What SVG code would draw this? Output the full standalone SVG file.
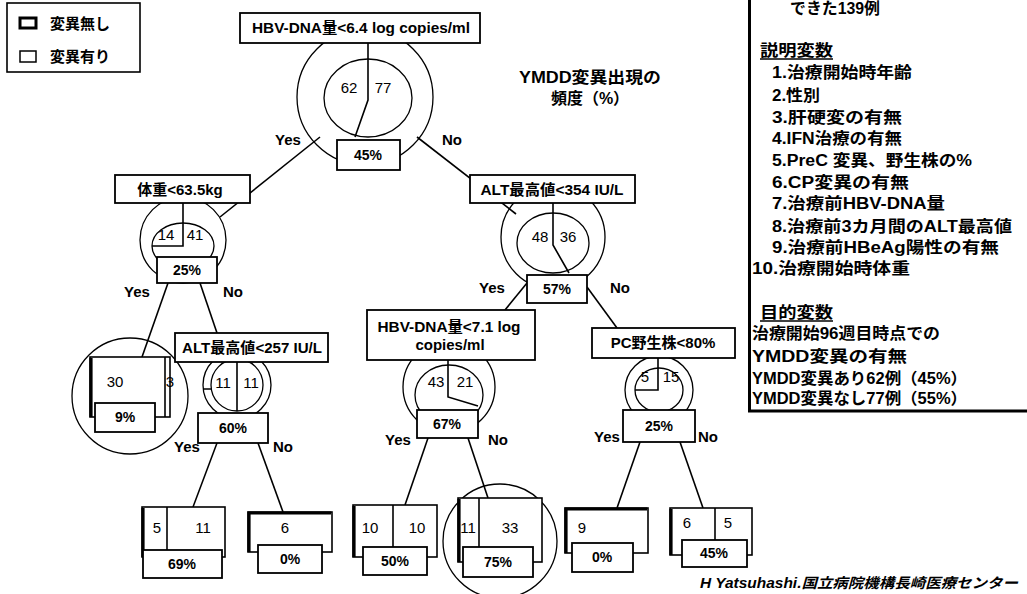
<svg xmlns="http://www.w3.org/2000/svg" width="1027" height="594" viewBox="0 0 1027 594">
<style>
.bx{fill:#fff;stroke:#000;stroke-width:1.8}
.ln{fill:none;stroke:#000;stroke-width:1.6}
.rg{fill:none;stroke:#000;stroke-width:1.3}
.lf{fill:#fff;stroke:#000;stroke-width:1.6}
.lk{fill:none;stroke:#000;stroke-width:3.2}
.t{font-family:"Liberation Sans","Noto Sans CJK JP",sans-serif;font-weight:bold;font-size:15px;fill:#000}
.c{text-anchor:middle}
.n{font-family:"Liberation Sans",sans-serif;font-size:15px;fill:#000;text-anchor:middle}
.p{font-family:"Liberation Sans",sans-serif;font-weight:bold;font-size:14px;fill:#000;text-anchor:middle}
.r{font-family:"Liberation Sans","Noto Sans CJK JP",sans-serif;font-weight:bold;font-size:16px;fill:#000}
</style>
<rect width="1027" height="594" fill="#fff"/>

<g id="legend">
<rect x="7" y="3" width="133" height="69" fill="none" stroke="#000" stroke-width="1.6"/>
<rect x="20" y="18" width="16" height="10" fill="#fff" stroke="#000" stroke-width="3"/>
<rect x="20" y="51" width="16" height="11" fill="#fff" stroke="#000" stroke-width="1.5"/>
<text x="50" y="29" class="t">変異無し</text>
<text x="50" y="62" class="t">変異有り</text>
</g>

<g id="connectors">
<line x1="320" y1="137" x2="220" y2="217" class="ln"/>
<line x1="417" y1="137" x2="516" y2="214" class="ln"/>
<line x1="168" y1="283" x2="142" y2="357" class="ln"/>
<line x1="200" y1="283" x2="217" y2="333" class="ln"/>
<line x1="217" y1="443" x2="193" y2="507" class="ln"/>
<line x1="258" y1="443" x2="283" y2="512" class="ln"/>
<line x1="527" y1="283" x2="505" y2="310" class="ln"/>
<line x1="587" y1="287" x2="617" y2="328" class="ln"/>
<line x1="428" y1="438" x2="405" y2="505" class="ln"/>
<line x1="468" y1="438" x2="488" y2="498" class="ln"/>
<line x1="640" y1="442" x2="617" y2="508" class="ln"/>
<line x1="680" y1="442" x2="703" y2="508" class="ln"/>
<text x="288" y="145" class="t c">Yes</text>
<text x="452" y="145" class="t c">No</text>
<text x="137" y="297" class="t c">Yes</text>
<text x="233" y="297" class="t c">No</text>
<text x="187" y="452" class="t c">Yes</text>
<text x="283" y="452" class="t c">No</text>
<text x="492" y="293" class="t c">Yes</text>
<text x="620" y="293" class="t c">No</text>
<text x="398" y="445" class="t c">Yes</text>
<text x="498" y="445" class="t c">No</text>
<text x="607" y="442" class="t c">Yes</text>
<text x="708" y="442" class="t c">No</text>
</g>

<g id="n_root">
<circle cx="365" cy="97" r="68" class="rg"/>
<ellipse cx="368" cy="98" rx="44" ry="39" class="rg"/>
<path d="M368,43 V100 L355,137" class="ln"/>
<rect x="240" y="13" width="240" height="30" class="bx"/>
<text x="361" y="33" class="t c" textLength="218" lengthAdjust="spacingAndGlyphs">HBV-DNA量&lt;6.4 log copies/ml</text>
<text x="349" y="93" class="n">62</text>
<text x="383" y="93" class="n">77</text>
<rect x="337" y="140" width="63" height="30" class="bx"/>
<text x="368" y="160" class="p">45%</text>
</g>

<g id="n_weight">
<circle cx="183" cy="240" r="43" class="rg"/>
<ellipse cx="183" cy="246" rx="31" ry="23" class="rg"/>
<path d="M183,203 V246 H152" class="ln"/>
<rect x="115" y="175" width="135" height="28" class="bx"/>
<text x="180" y="195" class="t c">体重&lt;63.5kg</text>
<text x="166" y="240" class="n">14</text>
<text x="195" y="240" class="n">41</text>
<rect x="157" y="257" width="60" height="26" class="bx"/>
<text x="187" y="275" class="p">25%</text>
</g>

<g id="leaf_9">
<circle cx="130" cy="396" r="58" class="rg"/>
<rect x="90" y="357" width="80" height="60" class="lf"/>
<line x1="165" y1="357" x2="165" y2="417" class="ln"/>
<line x1="91" y1="358" x2="91" y2="417" class="lk"/>
<text x="115" y="387" class="n">30</text>
<text x="170" y="387" class="n">3</text>
<rect x="95" y="403" width="60" height="29" class="bx"/>
<text x="125" y="422" class="p">9%</text>
</g>

<g id="n_alt257">
<circle cx="237" cy="385" r="34" class="rg"/>
<circle cx="237" cy="385" r="26" class="rg"/>
<path d="M237,362 V411 M203,389 H211" class="ln"/>
<rect x="175" y="333" width="153" height="29" class="bx"/>
<text x="252" y="353" class="t c" textLength="140" lengthAdjust="spacingAndGlyphs">ALT最高値&lt;257 IU/L</text>
<text x="223" y="388" class="n">11</text>
<text x="251" y="388" class="n">11</text>
<rect x="198" y="413" width="70" height="30" class="bx"/>
<text x="233" y="433" class="p">60%</text>
</g>

<g id="leaf_69">
<rect x="142" y="507" width="83" height="50" class="lf"/>
<line x1="167" y1="507" x2="167" y2="557" class="ln"/>
<line x1="143" y1="508" x2="143" y2="557" class="lk"/>
<text x="157" y="533" class="n">5</text>
<text x="203" y="533" class="n">11</text>
<rect x="143" y="550" width="79" height="28" class="bx"/>
<text x="182" y="569" class="p">69%</text>
</g>

<g id="leaf_0a">
<rect x="248" y="512" width="84" height="40" class="lf"/>
<path d="M249,552 V513 H331" class="lk"/>
<text x="285" y="533" class="n">6</text>
<rect x="258" y="545" width="64" height="28" class="bx"/>
<text x="290" y="564" class="p">0%</text>
</g>

<g id="n_alt354">
<circle cx="553" cy="237" r="52" class="rg"/>
<ellipse cx="553" cy="243" rx="36" ry="30" class="rg"/>
<path d="M553,203 V245 L569,273" class="ln"/>
<rect x="470" y="175" width="165" height="28" class="bx"/>
<text x="552" y="195" class="t c" textLength="143" lengthAdjust="spacingAndGlyphs">ALT最高値&lt;354 IU/L</text>
<text x="540" y="242" class="n">48</text>
<text x="568" y="242" class="n">36</text>
<rect x="527" y="275" width="60" height="28" class="bx"/>
<text x="557" y="294" class="p">57%</text>
</g>

<g id="n_hbv71">
<circle cx="449" cy="387" r="46" class="rg"/>
<ellipse cx="449" cy="395" rx="34" ry="30" class="rg"/>
<path d="M448,360 V397 L478,406" class="ln"/>
<rect x="367" y="310" width="168" height="50" class="bx"/>
<text x="449" y="332" class="t c" textLength="143" lengthAdjust="spacingAndGlyphs">HBV-DNA量&lt;7.1 log</text>
<text x="450" y="350" class="t c">copies/ml</text>
<text x="436" y="387" class="n">43</text>
<text x="465" y="387" class="n">21</text>
<rect x="417" y="410" width="61" height="28" class="bx"/>
<text x="447" y="429" class="p">67%</text>
</g>

<g id="leaf_50">
<rect x="353" y="505" width="84" height="52" class="lf"/>
<line x1="393" y1="505" x2="393" y2="557" class="ln"/>
<line x1="354" y1="506" x2="354" y2="557" class="lk"/>
<text x="370" y="533" class="n">10</text>
<text x="417" y="533" class="n">10</text>
<rect x="363" y="547" width="64" height="28" class="bx"/>
<text x="395" y="566" class="p">50%</text>
</g>

<g id="leaf_75">
<circle cx="500" cy="541" r="57" class="rg"/>
<rect x="458" y="498" width="84" height="64" class="lf"/>
<line x1="479" y1="498" x2="479" y2="562" class="ln"/>
<line x1="459" y1="499" x2="459" y2="562" class="lk"/>
<text x="468" y="533" class="n">11</text>
<text x="510" y="533" class="n">33</text>
<rect x="463" y="547" width="70" height="30" class="bx"/>
<text x="498" y="567" class="p">75%</text>
</g>

<g id="n_pc">
<circle cx="659" cy="390" r="34" class="rg"/>
<ellipse cx="659" cy="390" rx="24" ry="22" class="rg"/>
<path d="M658,358 V390 H635" class="ln"/>
<rect x="592" y="328" width="143" height="30" class="bx"/>
<text x="663" y="348" class="t c">PC野生株&lt;80%</text>
<text x="645" y="382" class="n">5</text>
<text x="671" y="382" class="n">15</text>
<rect x="623" y="410" width="72" height="32" class="bx"/>
<text x="659" y="431" class="p">25%</text>
</g>

<g id="leaf_0b">
<rect x="565" y="508" width="83" height="45" class="lf"/>
<path d="M566,553 V509 H647" class="lk"/>
<text x="582" y="533" class="n">9</text>
<rect x="572" y="543" width="61" height="29" class="bx"/>
<text x="602" y="562" class="p">0%</text>
</g>

<g id="leaf_45">
<rect x="670" y="508" width="82" height="47" class="lf"/>
<line x1="715" y1="508" x2="715" y2="540" class="ln"/>
<line x1="671" y1="509" x2="671" y2="555" class="lk"/>
<text x="687" y="528" class="n">6</text>
<text x="728" y="528" class="n">5</text>
<rect x="682" y="540" width="65" height="27" class="bx"/>
<text x="714" y="558" class="p">45%</text>
</g>

<g id="title">
<text x="590" y="83" class="r c" textLength="142" lengthAdjust="spacingAndGlyphs">YMDD変異出現の</text>
<text x="590" y="104" class="r c">頻度（%）</text>
</g>

<g id="panel">
<path d="M749.5,0 V411 H1027" fill="none" stroke="#000" stroke-width="3"/>
<text x="790" y="14" class="r" textLength="90" lengthAdjust="spacingAndGlyphs">できた139例</text>
<text x="760" y="56" class="r" textLength="73" lengthAdjust="spacingAndGlyphs">説明変数</text>
<line x1="760" y1="59" x2="833" y2="59" stroke="#000" stroke-width="1.3"/>
<text x="772" y="78" class="r" textLength="140" lengthAdjust="spacingAndGlyphs">1.治療開始時年齢</text>
<text x="772" y="101" class="r" textLength="48" lengthAdjust="spacingAndGlyphs">2.性別</text>
<text x="772" y="123" class="r" textLength="130" lengthAdjust="spacingAndGlyphs">3.肝硬変の有無</text>
<text x="772" y="144" class="r" textLength="130" lengthAdjust="spacingAndGlyphs">4.IFN治療の有無</text>
<text x="772" y="166" class="r" textLength="200" lengthAdjust="spacingAndGlyphs">5.PreC 変異、野生株の%</text>
<text x="772" y="188" class="r" textLength="137" lengthAdjust="spacingAndGlyphs">6.CP変異の有無</text>
<text x="772" y="209" class="r" textLength="173" lengthAdjust="spacingAndGlyphs">7.治療前HBV-DNA量</text>
<text x="772" y="232" class="r" textLength="240" lengthAdjust="spacingAndGlyphs">8.治療前3カ月間のALT最高値</text>
<text x="772" y="253" class="r" textLength="227" lengthAdjust="spacingAndGlyphs">9.治療前HBeAg陽性の有無</text>
<text x="752" y="274" class="r" textLength="158" lengthAdjust="spacingAndGlyphs">10.治療開始時体重</text>
<text x="760" y="318" class="r" textLength="73" lengthAdjust="spacingAndGlyphs">目的変数</text>
<line x1="760" y1="321" x2="833" y2="321" stroke="#000" stroke-width="1.3"/>
<text x="752" y="339" class="r" textLength="188" lengthAdjust="spacingAndGlyphs">治療開始96週目時点での</text>
<text x="752" y="362" class="r" textLength="155" lengthAdjust="spacingAndGlyphs">YMDD変異の有無</text>
<text x="752" y="384" class="r" textLength="215" lengthAdjust="spacingAndGlyphs">YMDD変異あり62例（45%）</text>
<text x="752" y="404" class="r" textLength="215" lengthAdjust="spacingAndGlyphs">YMDD変異なし77例（55%）</text>
</g>

<g id="footer">
<text x="700" y="588" font-family="Liberation Sans,Noto Sans CJK JP,sans-serif" font-weight="bold" font-style="italic" font-size="14" textLength="318" lengthAdjust="spacingAndGlyphs">H Yatsuhashi.国立病院機構長崎医療センター</text>
</g>
</svg>
